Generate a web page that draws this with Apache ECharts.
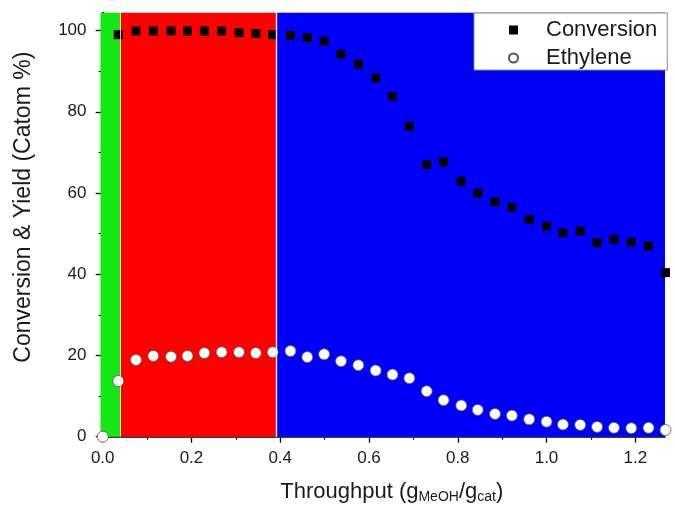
<!DOCTYPE html>
<html>
<head>
<meta charset="utf-8">
<script src="https://cdn.jsdelivr.net/npm/echarts@6/dist/echarts.min.js"></script>
<style>
  html, body { margin: 0; padding: 0; background: #ffffff; }
  #chart { width: 675px; height: 508px; }
</style>
</head>
<body>
<div id="chart"></div>
<script>
// Throughput (g MeOH / g cat) at each sampling point
const throughput = [0.035, 0.075, 0.114, 0.154, 0.191, 0.229, 0.268, 0.307, 0.345, 0.383,
  0.423, 0.461, 0.499, 0.537, 0.576, 0.615, 0.653, 0.691, 0.730, 0.768,
  0.808, 0.845, 0.884, 0.922, 0.961, 1.000, 1.037, 1.076, 1.114, 1.152,
  1.191, 1.230, 1.268];

// Methanol conversion (Catom %)
const conversion = [99.0, 99.9, 99.9, 99.9, 99.9, 99.9, 99.9, 99.5, 99.3, 99.0,
  98.8, 98.3, 97.4, 94.2, 91.7, 88.3, 83.8, 76.4, 67.0, 67.7,
  62.9, 60.0, 57.8, 56.5, 53.5, 51.8, 50.2, 50.6, 47.8, 48.6,
  47.9, 47.0, 40.4];

// Ethylene yield (Catom %), first sample taken at zero throughput
const ethyleneThroughput = [0.000].concat(throughput);
const ethylene = [0.0, 13.7, 18.9, 19.9, 19.7, 19.9, 20.6, 20.8, 20.8, 20.6, 20.8,
  21.1, 19.6, 20.3, 18.6, 17.6, 16.3, 15.3, 14.4, 11.2, 9.0,
  7.7, 6.6, 5.6, 5.2, 4.3, 3.7, 3.0, 2.9, 2.4, 2.2,
  2.1, 2.2, 1.65];

// Shaded regimes along the throughput axis
const regionEdges = [-0.005, 0.041, 0.391, 1.267];
const regionColors = ['#14e614', '#ff0000', '#0000fa'];

// Axis ticks
const xTicks = [0, 0.2, 0.4, 0.6, 0.8, 1.0, 1.2];
const xMinorTicks = [0.1, 0.3, 0.5, 0.7, 0.9, 1.1];
const yTicks = [0, 20, 40, 60, 80, 100];
const yMinorTicks = [10, 30, 50, 70, 90];

const X_MIN = regionEdges[0];
const X_MAX = regionEdges[regionEdges.length - 1];
const Y_MIN = 0;
const Y_MAX = 104.4;

const FONT = '"Liberation Sans", Arial, sans-serif';
const INK = '#1a1a1a';

const chart = echarts.init(document.getElementById('chart'), null, { renderer: 'canvas' });

const pair = (xs, ys) => xs.map((x, i) => [x, ys[i]]);

const bandAreas = regionColors.map((c, i) => [
  { xAxis: regionEdges[i], itemStyle: { color: c, opacity: 1 } },
  { xAxis: regionEdges[i + 1] }
]);

const option = {
  animation: false,
  backgroundColor: '#ffffff',
  grid: { left: 100.5, right: 10, top: 12.7, bottom: 71.3, outerBoundsMode: 'none' },
  legend: {
    left: 474, top: 13,
    orient: 'vertical',
    selectedMode: false,
    data: [{ name: 'Conversion', icon: 'rect' }, { name: 'Ethylene', icon: 'circle' }],
    itemWidth: 9, itemHeight: 9, itemGap: 4,
    padding: [5, 10, 0, 34],
    backgroundColor: '#ffffff',
    borderColor: '#8a8a8a', borderWidth: 1, borderRadius: 0,
    textStyle: { fontFamily: FONT, fontSize: 22, color: INK, lineHeight: 24, padding: [0, 0, 0, 23] }
  },
  xAxis: [
    {
      type: 'value', position: 'bottom', min: X_MIN, max: X_MAX,
      axisLine: { show: true, onZero: true, lineStyle: { color: '#000', width: 1.5 } },
      axisTick: { show: true, inside: false, length: 6, customValues: xTicks, lineStyle: { color: '#000', width: 1.3 } },
      axisLabel: { show: true, customValues: xTicks, margin: 13, fontFamily: FONT, fontSize: 17, color: INK,
        formatter: v => v.toFixed(1) },
      splitLine: { show: false },
      name: 'Throughput (g{sub|MeOH}/g{sub|cat})',
      nameLocation: 'middle', nameGap: 44,
      nameTextStyle: {
        fontFamily: FONT, fontSize: 22, color: INK, padding: [0, 0, 0, 18],
        rich: { sub: { fontFamily: FONT, fontSize: 14, color: INK, verticalAlign: 'bottom', padding: [9, 0, 0, 0] } }
      }
    },
    {
      type: 'value', position: 'bottom', min: X_MIN, max: X_MAX,
      axisLine: { show: false, onZero: true },
      axisTick: { show: true, length: 3, customValues: xMinorTicks, lineStyle: { color: '#000', width: 1.2 } },
      axisLabel: { show: false },
      splitLine: { show: false }
    }
  ],
  yAxis: [
    {
      type: 'value', position: 'left', min: Y_MIN, max: Y_MAX,
      axisLine: { show: true, onZero: true, lineStyle: { color: '#000', width: 2 } },
      axisTick: { show: true, inside: false, length: 7, customValues: yTicks, lineStyle: { color: '#000', width: 1.3 } },
      axisLabel: { show: true, customValues: yTicks, margin: 14, fontFamily: FONT, fontSize: 17, color: INK },
      splitLine: { show: false },
      name: 'Conversion & Yield (Catom %)',
      nameLocation: 'middle', nameGap: 65,
      nameTextStyle: { fontFamily: FONT, fontSize: 23, color: INK, padding: [0, 0, 0, 35] }
    },
    {
      type: 'value', position: 'left', min: Y_MIN, max: Y_MAX,
      axisLine: { show: false, onZero: true },
      axisTick: { show: true, length: 4, customValues: yMinorTicks, lineStyle: { color: '#000', width: 1.2 } },
      axisLabel: { show: false },
      splitLine: { show: false }
    }
  ],
  series: [
    {
      type: 'line', data: [], silent: true, xAxisIndex: 0, yAxisIndex: 0,
      markArea: { silent: true, data: bandAreas },
      markLine: {
        silent: true, symbol: 'none', label: { show: false },
        data: [
          { xAxis: regionEdges[1], lineStyle: { color: 'rgba(225,225,225,0.85)', width: 1, type: 'solid' } },
          { xAxis: regionEdges[2], lineStyle: { color: '#f2e6ee', width: 1.4, type: 'solid' } },
          { xAxis: regionEdges[3], lineStyle: { color: '#c8c8d8', width: 1.2, type: 'solid' } }
        ]
      }
    },
    {
      name: 'Conversion', type: 'scatter', clip: false,
      xAxisIndex: 0, yAxisIndex: 0,
      symbol: 'rect', symbolSize: 9,
      itemStyle: { color: '#000000', opacity: 1 },
      data: pair(throughput, conversion), z: 3
    },
    {
      name: 'Ethylene', type: 'scatter', clip: false,
      xAxisIndex: 0, yAxisIndex: 0,
      symbol: 'circle', symbolSize: 11,
      itemStyle: { color: '#ffffff', borderColor: '#555555', borderWidth: 0.8, opacity: 1 },
      data: pair(ethyleneThroughput, ethylene), z: 4
    }
  ]
};

chart.setOption(option);
</script>
</body>
</html>
